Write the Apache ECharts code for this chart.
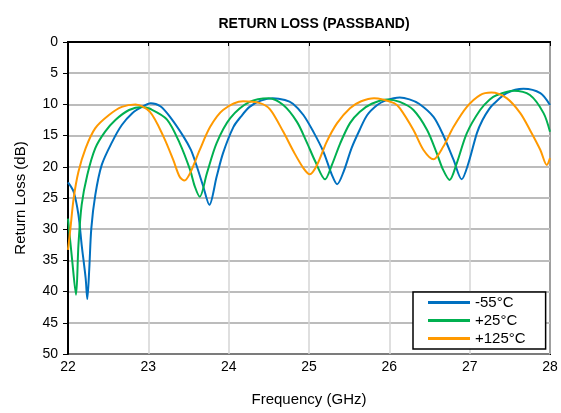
<!DOCTYPE html>
<html>
<head>
<meta charset="utf-8">
<script src="https://cdn.jsdelivr.net/npm/echarts@6/dist/echarts.min.js"></script>
<style>
html,body{margin:0;padding:0;background:#fff;}
#chart{width:561px;height:413px;}
</style>
</head>
<body>
<div id="chart"></div>
<script>
var seriesNames = ['-55°C', '+25°C', '+125°C'];

var freqM55 = [22.00,22.07,22.13,22.17,22.22,22.24,22.265,22.29,22.34,22.42,22.55,22.67,22.80,22.92,23.03,23.15,23.27,23.44,23.53,23.60,23.68,23.76,23.85,23.93,24.06,24.15,24.26,24.40,24.55,24.70,24.80,24.93,25.055,25.18,25.285,25.35,25.43,25.53,25.63,25.725,25.85,25.95,26.13,26.25,26.37,26.55,26.67,26.80,26.90,26.985,27.09,27.16,27.24,27.30,27.46,27.67,27.88,28.00];
var rlM55   = [22.5,24.0,27.7,32.5,37.9,41.2,36.3,29.9,24.5,19.7,16.0,13.3,11.4,10.4,9.8,10.3,12.0,15.2,17.3,19.8,23.0,26.1,21.6,17.8,13.6,12.0,10.4,9.4,9.0,9.3,9.9,11.7,14.4,17.6,21.3,22.8,20.8,17.0,14.1,11.7,10.1,9.4,8.9,9.2,9.9,12.0,14.9,18.9,22.0,19.4,14.6,12.5,10.8,9.9,8.2,7.5,8.2,10.1];

var freqP25 = [22.00,22.05,22.10,22.13,22.17,22.24,22.34,22.46,22.59,22.76,22.92,23.02,23.23,23.39,23.52,23.58,23.64,23.73,23.85,24.02,24.26,24.50,24.68,24.85,24.97,25.08,25.20,25.285,25.39,25.51,25.63,25.78,25.975,26.13,26.30,26.47,26.59,26.67,26.75,26.84,26.965,27.13,27.25,27.34,27.545,27.75,27.92,28.00];
var rlP25   = [28.3,34.7,40.5,32.5,26.1,21.3,17.0,14.4,12.5,10.9,10.4,10.7,12.4,16.2,20.5,23.2,24.8,21.0,16.2,12.2,9.6,9.0,10.1,12.8,16.0,19.2,22.0,19.7,16.2,13.0,11.2,9.9,9.2,9.6,10.9,14.1,17.8,20.5,22.1,19.4,14.6,10.9,9.2,8.5,7.8,8.5,11.4,14.4];

var freqP125 = [22.00,22.03,22.07,22.13,22.22,22.34,22.51,22.67,22.84,23.02,23.19,23.31,23.39,23.45,23.52,23.64,23.77,23.93,24.18,24.39,24.515,24.68,24.81,24.93,25.01,25.10,25.22,25.35,25.51,25.65,25.81,26.06,26.13,26.30,26.425,26.55,26.67,26.80,26.965,27.13,27.27,27.46,27.63,27.75,27.88,27.96,28.00];
var rlP125   = [33.3,29.9,25.1,20.8,17.0,13.8,11.7,10.4,10.0,11.2,15.2,18.9,21.6,22.2,21.0,17.3,13.6,10.9,9.5,9.8,10.8,14.4,17.6,20.2,21.2,19.7,16.0,13.0,10.6,9.5,9.0,9.8,10.6,14.1,17.3,18.8,16.8,13.6,10.4,8.5,8.1,9.0,11.4,14.1,17.3,19.7,18.6];

var colors = ['#0070C0', '#00B050', '#FF9900'];

function pairs(xs, ys) {
  var out = [];
  for (var i = 0; i < xs.length; i++) out.push([xs[i], ys[i]]);
  return out;
}

var chart = echarts.init(document.getElementById('chart'));
var font = 'Liberation Sans, Arial, sans-serif';
chart.setOption({
  animation: false,
  backgroundColor: '#fff',
  title: {
    text: 'RETURN LOSS (PASSBAND)',
    left: 309,
    top: 12,
    textAlign: 'center',
    textStyle: {fontFamily: font, fontSize: 14, fontWeight: 'bold', color: '#000'}
  },
  legend: {
    orient: 'vertical',
    left: 413,
    top: 292,
    data: seriesNames,
    itemWidth: 42,
    itemHeight: 3,
    itemGap: 3,
    icon: 'rect',
    padding: [3, 20, 3, 15],
    backgroundColor: '#fff',
    borderColor: '#000',
    borderWidth: 1.5,
    borderRadius: 0,
    textStyle: {fontFamily: font, fontSize: 15, color: '#000'}
  },
  grid: {
    left: 68, top: 42, width: 482, height: 312,
    show: true, borderColor: '#000', borderWidth: 2, backgroundColor: 'transparent'
  },
  xAxis: {
    type: 'value', min: 22, max: 28, interval: 1,
    name: 'Frequency (GHz)', nameLocation: 'middle', nameGap: 38,
    nameTextStyle: {fontFamily: font, fontSize: 15, color: '#000'},
    axisLine: {show: true, lineStyle: {color: '#000', width: 2}},
    axisTick: {show: true, length: 4, lineStyle: {color: '#000', width: 1}},
    axisLabel: {fontFamily: font, fontSize: 14, color: '#000', margin: 6},
    splitLine: {show: true, lineStyle: {color: '#d4d4d4', width: 1.5}}
  },
  yAxis: {
    type: 'value', min: 0, max: 50, interval: 5, inverse: true,
    name: 'Return Loss (dB)', nameLocation: 'middle', nameGap: 40,
    nameTextStyle: {fontFamily: font, fontSize: 15, color: '#000'},
    axisLine: {show: true, lineStyle: {color: '#000', width: 2}},
    axisTick: {show: true, length: 5, lineStyle: {color: '#000', width: 1}},
    axisLabel: {fontFamily: font, fontSize: 14, color: '#000', margin: 10},
    splitLine: {show: true, lineStyle: {color: '#a6a6a6', width: 1.5}}
  },
  series: [
    {name: seriesNames[0], type: 'line', data: pairs(freqM55, rlM55)},
    {name: seriesNames[1], type: 'line', data: pairs(freqP25, rlP25)},
    {name: seriesNames[2], type: 'line', data: pairs(freqP125, rlP125)}
  ].map(function (s, i) {
    s.smooth = 0.3;
    s.showSymbol = false;
    s.symbol = 'none';
    s.clip = true;
    s.color = colors[i];
    s.lineStyle = {color: colors[i], width: 2};
    return s;
  })
});
</script>
</body>
</html>
